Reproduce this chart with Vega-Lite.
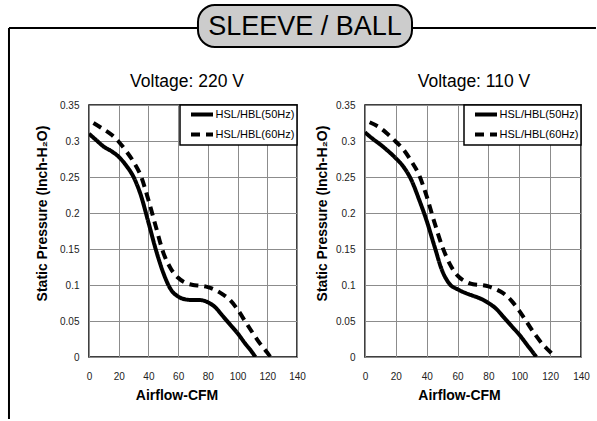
{
  "$schema": "https://vega.github.io/schema/vega-lite/v6.json",
  "padding": {"left": 7, "top": 4, "right": 0, "bottom": 0},
  "background": "white",
  "bounds": "flush",
  "spacing": 58,
  "datasets": {
    "heading": [{"label": "SLEEVE / BALL"}],
    "curves": [
      {"voltage": "220", "series": "HSL/HBL(50Hz)", "airflow": 0, "pressure": 0.310},
      {"voltage": "220", "series": "HSL/HBL(50Hz)", "airflow": 5, "pressure": 0.301},
      {"voltage": "220", "series": "HSL/HBL(50Hz)", "airflow": 10, "pressure": 0.292},
      {"voltage": "220", "series": "HSL/HBL(50Hz)", "airflow": 15, "pressure": 0.286},
      {"voltage": "220", "series": "HSL/HBL(50Hz)", "airflow": 20, "pressure": 0.278},
      {"voltage": "220", "series": "HSL/HBL(50Hz)", "airflow": 25, "pressure": 0.266},
      {"voltage": "220", "series": "HSL/HBL(50Hz)", "airflow": 30, "pressure": 0.250},
      {"voltage": "220", "series": "HSL/HBL(50Hz)", "airflow": 35, "pressure": 0.224},
      {"voltage": "220", "series": "HSL/HBL(50Hz)", "airflow": 40, "pressure": 0.187},
      {"voltage": "220", "series": "HSL/HBL(50Hz)", "airflow": 45, "pressure": 0.149},
      {"voltage": "220", "series": "HSL/HBL(50Hz)", "airflow": 50, "pressure": 0.117},
      {"voltage": "220", "series": "HSL/HBL(50Hz)", "airflow": 55, "pressure": 0.094},
      {"voltage": "220", "series": "HSL/HBL(50Hz)", "airflow": 60, "pressure": 0.084},
      {"voltage": "220", "series": "HSL/HBL(50Hz)", "airflow": 65, "pressure": 0.080},
      {"voltage": "220", "series": "HSL/HBL(50Hz)", "airflow": 70, "pressure": 0.079},
      {"voltage": "220", "series": "HSL/HBL(50Hz)", "airflow": 75, "pressure": 0.079},
      {"voltage": "220", "series": "HSL/HBL(50Hz)", "airflow": 80, "pressure": 0.076},
      {"voltage": "220", "series": "HSL/HBL(50Hz)", "airflow": 85, "pressure": 0.069},
      {"voltage": "220", "series": "HSL/HBL(50Hz)", "airflow": 90, "pressure": 0.057},
      {"voltage": "220", "series": "HSL/HBL(50Hz)", "airflow": 95, "pressure": 0.045},
      {"voltage": "220", "series": "HSL/HBL(50Hz)", "airflow": 100, "pressure": 0.033},
      {"voltage": "220", "series": "HSL/HBL(50Hz)", "airflow": 105, "pressure": 0.019},
      {"voltage": "220", "series": "HSL/HBL(50Hz)", "airflow": 110, "pressure": 0.006},
      {"voltage": "220", "series": "HSL/HBL(50Hz)", "airflow": 112, "pressure": 0.0},
      {"voltage": "220", "series": "HSL/HBL(60Hz)", "airflow": 3, "pressure": 0.325},
      {"voltage": "220", "series": "HSL/HBL(60Hz)", "airflow": 10, "pressure": 0.316},
      {"voltage": "220", "series": "HSL/HBL(60Hz)", "airflow": 15, "pressure": 0.309},
      {"voltage": "220", "series": "HSL/HBL(60Hz)", "airflow": 20, "pressure": 0.299},
      {"voltage": "220", "series": "HSL/HBL(60Hz)", "airflow": 25, "pressure": 0.286},
      {"voltage": "220", "series": "HSL/HBL(60Hz)", "airflow": 30, "pressure": 0.271},
      {"voltage": "220", "series": "HSL/HBL(60Hz)", "airflow": 35, "pressure": 0.251},
      {"voltage": "220", "series": "HSL/HBL(60Hz)", "airflow": 40, "pressure": 0.218},
      {"voltage": "220", "series": "HSL/HBL(60Hz)", "airflow": 45, "pressure": 0.181},
      {"voltage": "220", "series": "HSL/HBL(60Hz)", "airflow": 50, "pressure": 0.145},
      {"voltage": "220", "series": "HSL/HBL(60Hz)", "airflow": 55, "pressure": 0.123},
      {"voltage": "220", "series": "HSL/HBL(60Hz)", "airflow": 60, "pressure": 0.110},
      {"voltage": "220", "series": "HSL/HBL(60Hz)", "airflow": 65, "pressure": 0.103},
      {"voltage": "220", "series": "HSL/HBL(60Hz)", "airflow": 70, "pressure": 0.100},
      {"voltage": "220", "series": "HSL/HBL(60Hz)", "airflow": 75, "pressure": 0.099},
      {"voltage": "220", "series": "HSL/HBL(60Hz)", "airflow": 80, "pressure": 0.097},
      {"voltage": "220", "series": "HSL/HBL(60Hz)", "airflow": 85, "pressure": 0.093},
      {"voltage": "220", "series": "HSL/HBL(60Hz)", "airflow": 90, "pressure": 0.087},
      {"voltage": "220", "series": "HSL/HBL(60Hz)", "airflow": 95, "pressure": 0.079},
      {"voltage": "220", "series": "HSL/HBL(60Hz)", "airflow": 100, "pressure": 0.066},
      {"voltage": "220", "series": "HSL/HBL(60Hz)", "airflow": 105, "pressure": 0.050},
      {"voltage": "220", "series": "HSL/HBL(60Hz)", "airflow": 110, "pressure": 0.034},
      {"voltage": "220", "series": "HSL/HBL(60Hz)", "airflow": 115, "pressure": 0.019},
      {"voltage": "220", "series": "HSL/HBL(60Hz)", "airflow": 120, "pressure": 0.006},
      {"voltage": "220", "series": "HSL/HBL(60Hz)", "airflow": 122, "pressure": 0.0},
      {"voltage": "110", "series": "HSL/HBL(50Hz)", "airflow": 0, "pressure": 0.312},
      {"voltage": "110", "series": "HSL/HBL(50Hz)", "airflow": 5, "pressure": 0.303},
      {"voltage": "110", "series": "HSL/HBL(50Hz)", "airflow": 10, "pressure": 0.295},
      {"voltage": "110", "series": "HSL/HBL(50Hz)", "airflow": 15, "pressure": 0.286},
      {"voltage": "110", "series": "HSL/HBL(50Hz)", "airflow": 20, "pressure": 0.276},
      {"voltage": "110", "series": "HSL/HBL(50Hz)", "airflow": 25, "pressure": 0.264},
      {"voltage": "110", "series": "HSL/HBL(50Hz)", "airflow": 30, "pressure": 0.246},
      {"voltage": "110", "series": "HSL/HBL(50Hz)", "airflow": 35, "pressure": 0.219},
      {"voltage": "110", "series": "HSL/HBL(50Hz)", "airflow": 40, "pressure": 0.189},
      {"voltage": "110", "series": "HSL/HBL(50Hz)", "airflow": 45, "pressure": 0.154},
      {"voltage": "110", "series": "HSL/HBL(50Hz)", "airflow": 50, "pressure": 0.120},
      {"voltage": "110", "series": "HSL/HBL(50Hz)", "airflow": 55, "pressure": 0.101},
      {"voltage": "110", "series": "HSL/HBL(50Hz)", "airflow": 60, "pressure": 0.094},
      {"voltage": "110", "series": "HSL/HBL(50Hz)", "airflow": 65, "pressure": 0.089},
      {"voltage": "110", "series": "HSL/HBL(50Hz)", "airflow": 70, "pressure": 0.085},
      {"voltage": "110", "series": "HSL/HBL(50Hz)", "airflow": 75, "pressure": 0.081},
      {"voltage": "110", "series": "HSL/HBL(50Hz)", "airflow": 80, "pressure": 0.075},
      {"voltage": "110", "series": "HSL/HBL(50Hz)", "airflow": 85, "pressure": 0.067},
      {"voltage": "110", "series": "HSL/HBL(50Hz)", "airflow": 90, "pressure": 0.055},
      {"voltage": "110", "series": "HSL/HBL(50Hz)", "airflow": 95, "pressure": 0.043},
      {"voltage": "110", "series": "HSL/HBL(50Hz)", "airflow": 100, "pressure": 0.031},
      {"voltage": "110", "series": "HSL/HBL(50Hz)", "airflow": 105, "pressure": 0.017},
      {"voltage": "110", "series": "HSL/HBL(50Hz)", "airflow": 110, "pressure": 0.003},
      {"voltage": "110", "series": "HSL/HBL(50Hz)", "airflow": 111, "pressure": 0.0},
      {"voltage": "110", "series": "HSL/HBL(60Hz)", "airflow": 3, "pressure": 0.326},
      {"voltage": "110", "series": "HSL/HBL(60Hz)", "airflow": 10, "pressure": 0.318},
      {"voltage": "110", "series": "HSL/HBL(60Hz)", "airflow": 15, "pressure": 0.309},
      {"voltage": "110", "series": "HSL/HBL(60Hz)", "airflow": 20, "pressure": 0.299},
      {"voltage": "110", "series": "HSL/HBL(60Hz)", "airflow": 25, "pressure": 0.288},
      {"voltage": "110", "series": "HSL/HBL(60Hz)", "airflow": 30, "pressure": 0.272},
      {"voltage": "110", "series": "HSL/HBL(60Hz)", "airflow": 35, "pressure": 0.253},
      {"voltage": "110", "series": "HSL/HBL(60Hz)", "airflow": 40, "pressure": 0.223},
      {"voltage": "110", "series": "HSL/HBL(60Hz)", "airflow": 45, "pressure": 0.187},
      {"voltage": "110", "series": "HSL/HBL(60Hz)", "airflow": 50, "pressure": 0.154},
      {"voltage": "110", "series": "HSL/HBL(60Hz)", "airflow": 55, "pressure": 0.129},
      {"voltage": "110", "series": "HSL/HBL(60Hz)", "airflow": 60, "pressure": 0.113},
      {"voltage": "110", "series": "HSL/HBL(60Hz)", "airflow": 65, "pressure": 0.105},
      {"voltage": "110", "series": "HSL/HBL(60Hz)", "airflow": 70, "pressure": 0.101},
      {"voltage": "110", "series": "HSL/HBL(60Hz)", "airflow": 75, "pressure": 0.100},
      {"voltage": "110", "series": "HSL/HBL(60Hz)", "airflow": 80, "pressure": 0.098},
      {"voltage": "110", "series": "HSL/HBL(60Hz)", "airflow": 85, "pressure": 0.094},
      {"voltage": "110", "series": "HSL/HBL(60Hz)", "airflow": 90, "pressure": 0.088},
      {"voltage": "110", "series": "HSL/HBL(60Hz)", "airflow": 95, "pressure": 0.078},
      {"voltage": "110", "series": "HSL/HBL(60Hz)", "airflow": 100, "pressure": 0.064},
      {"voltage": "110", "series": "HSL/HBL(60Hz)", "airflow": 105, "pressure": 0.048},
      {"voltage": "110", "series": "HSL/HBL(60Hz)", "airflow": 110, "pressure": 0.032},
      {"voltage": "110", "series": "HSL/HBL(60Hz)", "airflow": 115, "pressure": 0.018},
      {"voltage": "110", "series": "HSL/HBL(60Hz)", "airflow": 120, "pressure": 0.007},
      {"voltage": "110", "series": "HSL/HBL(60Hz)", "airflow": 123, "pressure": 0.0}
    ]
  },
  "vconcat": [
    {
      "width": 509,
      "height": 42,
      "data": {"name": "heading"},
      "view": {"stroke": null},
      "layer": [
        {
          "mark": {"type": "rule", "stroke": "black", "strokeWidth": 2},
          "encoding": {
            "x": {"datum": -0.1572, "type": "quantitative", "scale": {"domain": [0, 1], "nice": false, "zero": false}, "axis": null},
            "x2": {"datum": 0.996},
            "y": {"datum": 0.45, "type": "quantitative", "scale": {"domain": [0, 1], "nice": false, "zero": false}, "axis": null}
          }
        },
        {
          "mark": {"type": "rule", "stroke": "black", "strokeWidth": 2},
          "encoding": {
            "x": {"datum": -0.1572, "type": "quantitative"},
            "y": {"datum": 0.45, "type": "quantitative"},
            "y2": {"datum": -8.857}
          }
        },
        {
          "mark": {"type": "rect", "fill": "#cccccc", "stroke": "black", "strokeWidth": 2, "cornerRadius": 17},
          "encoding": {
            "x": {"datum": 0.2141, "type": "quantitative"},
            "x2": {"datum": 0.6346},
            "y": {"datum": 0, "type": "quantitative"},
            "y2": {"datum": 1}
          }
        },
        {
          "mark": {"type": "text", "font": "Liberation Sans", "fontSize": 27, "color": "black", "baseline": "middle", "align": "center"},
          "encoding": {
            "text": {"field": "label"},
            "x": {"datum": 0.4244, "type": "quantitative"},
            "y": {"datum": 0.47, "type": "quantitative"}
          }
        }
      ]
    },
    {
      "bounds": "flush",
      "spacing": 68,
      "hconcat": [
        {
          "width": 208,
          "height": 252,
          "data": {"name": "curves"},
          "transform": [{"filter": "datum.voltage == '220'"}],
          "title": {"text": "Voltage: 220 V", "font": "Liberation Sans", "fontSize": 17.5, "fontWeight": "normal", "color": "black", "offset": 10, "dx": -6, "frame": "group", "anchor": "middle"},
          "mark": {"type": "line", "interpolate": "monotone", "strokeWidth": 4, "color": "black", "clip": true},
          "encoding": {
            "x": {"field": "airflow", "type": "quantitative", "scale": {"domain": [0, 140], "nice": false},
                  "axis": {"values": [0, 20, 40, 60, 80, 100, 120, 140], "title": "Airflow-CFM", "titleX": 87.5, "titleY": 31, "format": "d"}},
            "y": {"field": "pressure", "type": "quantitative", "scale": {"domain": [0, 0.35], "nice": false},
                  "axis": {"values": [0, 0.05, 0.1, 0.15, 0.2, 0.25, 0.3, 0.35], "title": "Static Pressure (Inch-H₂O)", "titleX": -40, "titleY": 108, "format": "~g"}},
            "strokeDash": {"field": "series", "type": "nominal",
                  "scale": {"domain": ["HSL/HBL(50Hz)", "HSL/HBL(60Hz)"], "range": [[1, 0], [9, 6]]},
                  "legend": {"orient": "top-right", "offset": 0, "title": null}}
          }
        },
        {
          "width": 216,
          "height": 252,
          "data": {"name": "curves"},
          "transform": [{"filter": "datum.voltage == '110'"}],
          "title": {"text": "Voltage: 110 V", "font": "Liberation Sans", "fontSize": 17.5, "fontWeight": "normal", "color": "black", "offset": 10, "dx": 1, "frame": "group", "anchor": "middle"},
          "mark": {"type": "line", "interpolate": "monotone", "strokeWidth": 4, "color": "black", "clip": true},
          "encoding": {
            "x": {"field": "airflow", "type": "quantitative", "scale": {"domain": [0, 140], "nice": false},
                  "axis": {"values": [0, 20, 40, 60, 80, 100, 120, 140], "title": "Airflow-CFM", "titleX": 94, "titleY": 31, "format": "d"}},
            "y": {"field": "pressure", "type": "quantitative", "scale": {"domain": [0, 0.35], "nice": false},
                  "axis": {"values": [0, 0.05, 0.1, 0.15, 0.2, 0.25, 0.3, 0.35], "title": "Static Pressure (Inch-H₂O)", "titleX": -36, "titleY": 108, "format": "~g"}},
            "strokeDash": {"field": "series", "type": "nominal",
                  "scale": {"domain": ["HSL/HBL(50Hz)", "HSL/HBL(60Hz)"], "range": [[1, 0], [9, 6]]},
                  "legend": {"orient": "top-right", "offset": 0, "title": null}}
          }
        }
      ],
      "resolve": {"scale": {"strokeDash": "independent"}, "legend": {"strokeDash": "independent"}}
    }
  ],
  "config": {
    "font": "Liberation Sans",
    "view": {"stroke": "black", "strokeWidth": 1.5},
    "axis": {
      "grid": true, "gridColor": "#8c8c8c", "gridWidth": 1, "gridOpacity": 1,
      "domain": false, "ticks": false, "tickSize": 0,
      "labelOverlap": false, "labelFlush": false, "labelBound": false,
      "labelFont": "Liberation Sans", "labelFontSize": 10, "labelColor": "#222222",
      "titleFont": "Liberation Sans", "titleFontSize": 14, "titleFontWeight": "bold", "titleColor": "black"
    },
    "axisX": {"labelPadding": 14},
    "axisY": {"labelPadding": 10},
    "legend": {
      "strokeColor": "black", "strokeWidth": 1.5, "fillColor": "white", "padding": 2,
      "symbolType": "M-2,0H2", "symbolSize": 121, "symbolStrokeWidth": 4, "symbolStrokeColor": "black",
      "symbolFillColor": "transparent",
      "symbolOffset": 12.5, "labelOffset": 6, "rowPadding": 3,
      "labelFont": "Liberation Sans", "labelFontSize": 11, "labelColor": "black"
    }
  }
}
